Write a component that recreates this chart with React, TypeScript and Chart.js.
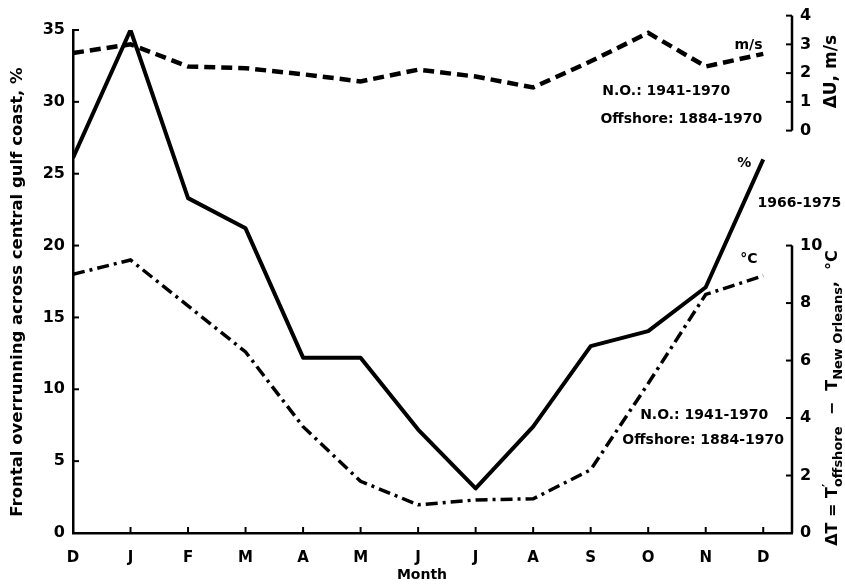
import React, { useEffect, useRef } from 'react';
import { Chart, registerables } from 'chart.js';

Chart.register(...registerables);

const months = ['D', 'J', 'F', 'M', 'A', 'M', 'J', 'J', 'A', 'S', 'O', 'N', 'D'];
const overrunningPct = [26.1, 35, 23.3, 21.2, 12.2, 12.2, 7.2, 3.1, 7.4, 13.0, 14.05, 17.1, 26];
const deltaU = [2.7, 3.0, 2.23, 2.17, 1.96, 1.71, 2.12, 1.88, 1.5, 2.41, 3.4, 2.23, 2.67];
const deltaT = [9.0, 9.5, 7.9, 6.3, 3.7, 1.8, 0.98, 1.15, 1.19, 2.2, 5.2, 8.3, 8.95];
const pctTicks = [0, 5, 10, 15, 20, 25, 30, 35];
const uTicks = [0, 1, 2, 3, 4];
const tTicks = [0, 2, 4, 6, 8, 10];

// annotation texts anchored in data units (x: month index, y: % scale)
const notes = [
  { text: 'm/s', x: 11.5, y: 33.96 },
  { text: 'N.O.: 1941-1970', x: 9.2, y: 30.76 },
  { text: 'Offshore: 1884-1970', x: 9.17, y: 28.81 },
  { text: '%', x: 11.55, y: 25.75 },
  { text: '1966-1975', x: 11.9, y: 22.96 },
  { text: '°C', x: 11.6, y: 19.07 },
  { text: 'N.O.: 1941-1970', x: 9.86, y: 8.21 },
  { text: 'Offshore: 1884-1970', x: 9.55, y: 6.47 },
];

const FONT = '"DejaVu Sans", sans-serif';

const decorPlugin = {
  id: 'decor',
  afterDraw(chart: any) {
    const ctx = chart.ctx;
    const area = chart.chartArea;
    const sx = chart.scales.x;
    const sy = chart.scales.y;
    const su = chart.scales.yU;
    const st = chart.scales.yT;
    ctx.save();
    ctx.strokeStyle = '#000';
    ctx.fillStyle = '#000';
    ctx.lineWidth = 2;
    ctx.font = `bold 16px ${FONT}`;
    ctx.textAlign = 'right';
    ctx.textBaseline = 'middle';
    // inward ticks + labels on left axis
    pctTicks.forEach((v) => {
      const py = sy.getPixelForValue(v);
      ctx.beginPath();
      ctx.moveTo(area.left, py);
      ctx.lineTo(area.left + 6, py);
      ctx.stroke();
      ctx.fillText(String(v), area.left - 8, py);
    });
    // inward ticks on x axis
    months.forEach((_, i) => {
      const px = sx.getPixelForValue(i);
      ctx.beginPath();
      ctx.moveTo(px, area.bottom);
      ctx.lineTo(px, area.bottom - 6);
      ctx.stroke();
    });
    const rx = area.right;
    ctx.lineWidth = 2.5;
    ctx.beginPath();
    ctx.moveTo(rx, su.getPixelForValue(uTicks[0]));
    ctx.lineTo(rx, su.getPixelForValue(uTicks[uTicks.length - 1]));
    ctx.stroke();
    ctx.beginPath();
    ctx.moveTo(rx, st.getPixelForValue(tTicks[0]));
    ctx.lineTo(rx, st.getPixelForValue(tTicks[tTicks.length - 1]));
    ctx.stroke();
    ctx.lineWidth = 2;
    ctx.textAlign = 'left';
    uTicks.forEach((v) => {
      const py = su.getPixelForValue(v);
      ctx.beginPath();
      ctx.moveTo(rx, py);
      ctx.lineTo(rx - 6, py);
      ctx.stroke();
      ctx.fillText(String(v), rx + 8, py);
    });
    tTicks.forEach((v) => {
      const py = st.getPixelForValue(v);
      ctx.beginPath();
      ctx.moveTo(rx, py);
      ctx.lineTo(rx - 6, py);
      ctx.stroke();
      ctx.fillText(String(v), rx + 8, py);
    });

    // annotations
    ctx.font = `bold 14px ${FONT}`;
    ctx.textAlign = 'left';
    notes.forEach((n) => {
      ctx.fillText(n.text, sx.getPixelForValue(n.x), sy.getPixelForValue(n.y));
    });

    // x title
    ctx.font = `bold 14px ${FONT}`;
    ctx.textAlign = 'center';
    ctx.fillText('Month', 422, 575);

    const drawRich = (parts: { t: string; size: number; dy: number; adv?: boolean }[], cx: number, cy: number) => {
      ctx.save();
      ctx.translate(cx, cy);
      ctx.rotate(-Math.PI / 2);
      ctx.textAlign = 'left';
      ctx.textBaseline = 'middle';
      let total = 0;
      parts.forEach((p) => {
        ctx.font = `bold ${p.size}px ${FONT}`;
        if (p.adv !== false) total += ctx.measureText(p.t).width;
      });
      let x = -total / 2;
      parts.forEach((p) => {
        ctx.font = `bold ${p.size}px ${FONT}`;
        ctx.fillText(p.t, x, p.dy);
        if (p.adv !== false) x += ctx.measureText(p.t).width;
      });
      ctx.restore();
    };
    drawRich([{ t: 'Frontal overrunning across central gulf coast, %', size: 16.5, dy: 0 }], 18, 292);
    drawRich([{ t: 'ΔU, m/s', size: 17, dy: 0 }], 832, su.getPixelForValue(2.05));
    drawRich(
      [
        { t: 'ΔT = T', size: 16, dy: 0 },
        { t: '′', size: 13, dy: -5, adv: false },
        { t: 'offshore', size: 13, dy: 6 },
        { t: '  −  T', size: 16, dy: 0 },
        { t: 'New Orleans', size: 13, dy: 6 },
        { t: ',  °C', size: 16, dy: 0 },
      ],
      833,
      398
    );
    ctx.restore();
  },
};

export default function App() {
  const ref = useRef<HTMLCanvasElement>(null);
  useEffect(() => {
    if (!ref.current) return;
    const chart = new Chart(ref.current, {
      type: 'line',
      data: {
        datasets: [
          {
            data: months.map((_, i) => ({ x: i, y: overrunningPct[i] })),
            yAxisID: 'y',
            borderColor: '#000',
            borderWidth: 4,
            pointRadius: 0,
            fill: false,
            tension: 0,
            borderJoinStyle: 'round',
          },
          {
            data: months.map((_, i) => ({ x: i, y: deltaU[i] })),
            yAxisID: 'yU',
            borderColor: '#000',
            borderWidth: 4.5,
            borderDash: [11, 6],
            pointRadius: 0,
            fill: false,
            tension: 0,
            clip: false,
          },
          {
            data: months.map((_, i) => ({ x: i, y: deltaT[i] })),
            yAxisID: 'yT',
            borderColor: '#000',
            borderWidth: 3.5,
            borderDash: [12, 5, 3, 5],
            pointRadius: 0,
            fill: false,
            tension: 0,
          },
        ],
      },
      plugins: [decorPlugin],
      options: {
        responsive: false,
        animation: false,
        layout: { padding: { top: 30, right: 53, left: 0, bottom: 0 } },
        plugins: { legend: { display: false }, tooltip: { enabled: false } },
        scales: {
          x: {
            type: 'linear',
            position: 'bottom',
            min: 0,
            max: 12.5,
            grid: { display: false },
            border: { display: true, width: 2.5, color: '#000' },
            ticks: {
              autoSkip: false,
              maxRotation: 0,
              padding: 8,
              color: '#000',
              font: { family: FONT, size: 15, weight: 'bold' },
              callback: (v: any) => months[v] ?? '',
            },
            afterBuildTicks: (s: any) => {
              s.ticks = months.map((_, i) => ({ value: i }));
            },
            afterFit: (s: any) => {
              s.height = 54;
            },
          },
          y: {
            position: 'left',
            min: 0,
            max: 35,
            grid: { display: false },
            border: { display: true, width: 2.5, color: '#000' },
            afterBuildTicks: (s: any) => {
              s.ticks = pctTicks.map((v) => ({ value: v }));
            },
            ticks: { display: false },
            afterFit: (s: any) => {
              s.width = 73;
            },
          },
          yU: { type: 'linear', display: false, position: 'right', min: -14, max: 3.5 },
          yT: { type: 'linear', display: false, position: 'right', min: 0, max: 17.5 },
        },
      },
    } as any);
    return () => chart.destroy();
  }, []);
  return (
    <div style={{ position: 'fixed', left: 0, top: 0, width: 845, height: 587, background: '#fff' }}>
      <canvas ref={ref} width={845} height={587} />
    </div>
  );
}
